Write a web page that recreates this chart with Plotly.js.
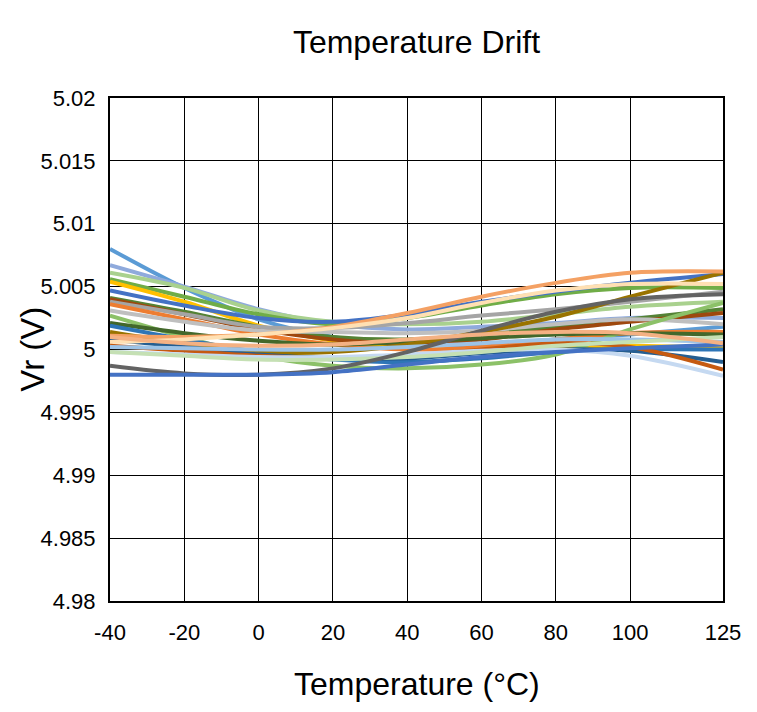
<!DOCTYPE html>
<html>
<head>
<meta charset="utf-8">
<script src="https://cdn.plot.ly/plotly-3.0.1.min.js"></script>
<style>html,body{margin:0;padding:0;background:#fff}#chart{width:757px;height:712px}</style>
</head>
<body>
<div id="chart"></div>
<script>
var temps = [-40, -20, 0, 20, 40, 60, 80, 100, 125];
var xTickVals = [-40, -20, 0, 20, 40, 60, 80, 100, 125];
var xTickText = ['-40', '-20', '0', '20', '40', '60', '80', '100', '125'];
var yTickVals = [4.98, 4.985, 4.99, 4.995, 5, 5.005, 5.01, 5.015, 5.02];
var yTickText = ['4.98', '4.985', '4.99', '4.995', '5', '5.005', '5.01', '5.015', '5.02'];

var s01 = [5.0080, 5.0049, 5.0024, 5.0010, 5.0004, 5.0004, 5.0008, 5.0012, 5.0018];
var s02 = [5.0067, 5.0050, 5.0032, 5.0020, 5.0016, 5.0018, 5.0021, 5.0025, 5.0025];
var s03 = [5.0061, 5.0049, 5.0031, 5.0022, 5.0020, 5.0022, 5.0028, 5.0034, 5.0038];
var s04 = [5.0056, 5.0042, 5.0028, 5.0020, 5.0025, 5.0035, 5.0044, 5.0049, 5.0049];
var s05 = [5.0054, 5.0038, 5.0019, 5.0007, 5.0001, 5.0000, 5.0002, 5.0003, 5.0001];
var s06 = [5.0047, 5.0035, 5.0025, 5.0022, 5.0028, 5.0038, 5.0046, 5.0053, 5.0060];
var s07 = [5.0041, 5.0030, 5.0018, 5.0010, 5.0008, 5.0012, 5.0018, 5.0024, 5.0032];
var s08 = [5.0040, 5.0028, 5.0016, 5.0008, 5.0005, 5.0008, 5.0016, 5.0022, 5.0029];
var s09 = [5.0038, 5.0028, 5.0018, 5.0017, 5.0021, 5.0027, 5.0032, 5.0038, 5.0046];
var s10 = [5.0036, 5.0024, 5.0012, 5.0004, 5.0000, 5.0002, 5.0008, 5.0013, 5.0014];
var s11 = [5.0031, 5.0022, 5.0015, 5.0014, 5.0013, 5.0015, 5.0020, 5.0024, 5.0020];
var s12 = [5.0027, 5.0010, 4.9995, 4.9987, 4.9985, 4.9988, 4.9996, 5.0016, 5.0037];
var s13 = [5.0021, 5.0013, 5.0007, 5.0004, 5.0006, 5.0009, 5.0012, 5.0013, 5.0012];
var s14 = [5.0019, 5.0008, 4.9998, 4.9992, 4.9990, 4.9993, 4.9998, 5.0000, 5.0000];
var s15 = [5.0014, 5.0005, 4.9998, 4.9998, 5.0004, 5.0014, 5.0026, 5.0042, 5.0061];
var s16 = [5.0011, 5.0010, 5.0012, 5.0018, 5.0029, 5.0042, 5.0053, 5.0061, 5.0062];
var s17 = [5.0008, 5.0002, 4.9996, 4.9993, 4.9993, 4.9997, 5.0000, 4.9999, 4.9990];
var s18 = [5.0006, 5.0008, 5.0012, 5.0017, 5.0025, 5.0037, 5.0047, 5.0052, 5.0052];
var s19 = [5.0003, 4.9999, 4.9995, 4.9993, 4.9995, 5.0000, 5.0005, 5.0002, 4.9984];
var s20 = [5.0002, 5.0001, 5.0000, 5.0000, 5.0002, 5.0005, 5.0008, 5.0008, 5.0006];
var s21 = [4.9998, 4.9996, 4.9994, 4.9994, 4.9996, 4.9999, 5.0000, 4.9995, 4.9979];
var s22 = [4.9998, 4.9995, 4.9992, 4.9992, 4.9994, 4.9998, 5.0003, 5.0006, 5.0010];
var s23 = [4.9987, 4.9981, 4.9980, 4.9985, 4.9998, 5.0015, 5.0030, 5.0040, 5.0044];
var s24 = [4.9980, 4.9980, 4.9980, 4.9982, 4.9988, 4.9994, 4.9998, 5.0001, 5.0004];
var s25 = [5.0010, 5.0005, 5.0003, 5.0004, 5.0008, 5.0012, 5.0014, 5.0013, 5.0005];

var seriesList = [s01, s02, s03, s04, s05, s06, s07, s08, s09, s10, s11, s12, s13,
                  s14, s15, s16, s17, s18, s19, s20, s21, s22, s23, s24, s25];
var colors = ['#5B9BD5', '#8FAADC', '#A9D18E', '#70AD47', '#FFC000', '#4472C4', '#548235',
              '#9E480E', '#A5A5A5', '#ED7D31', '#BFBFBF', '#8CC168', '#43682B',
              '#2E75B6', '#997300', '#F4A164', '#255E91', '#FFE0B3', '#C55A11', '#9DC3E6',
              '#C5D9F1', '#C5E0B4', '#636363', '#4472C4', '#F4B183'];

var traces = seriesList.map(function (s, i) {
  return {
    x: temps, y: s, type: 'scatter', mode: 'lines',
    line: {color: colors[i], width: 4, shape: 'spline', smoothing: 1},
    showlegend: false, hoverinfo: 'skip'
  };
});

var font = 'Arial, "Liberation Sans", sans-serif';
var layout = {
  width: 757, height: 712,
  margin: {l: 110, r: 34, t: 98, b: 111},
  paper_bgcolor: '#ffffff', plot_bgcolor: '#ffffff',
  showlegend: false,
  title: {text: 'Temperature Drift', font: {family: font, size: 32, color: '#000'},
          x: 0.5, xanchor: 'center', xref: 'paper', y: 0.941, yanchor: 'middle', yref: 'container'},
  xaxis: {
    range: [-40, 125], tickmode: 'array', tickvals: xTickVals, ticktext: xTickText,
    showgrid: true, gridcolor: '#000', gridwidth: 1,
    showline: true, linecolor: '#000', linewidth: 2, mirror: true,
    ticks: '', ticklabelstandoff: 11, zeroline: false,
    tickfont: {family: font, size: 22, color: '#000'}
  },
  yaxis: {
    range: [4.98, 5.02], tickmode: 'array', tickvals: yTickVals, ticktext: yTickText,
    showgrid: true, gridcolor: '#000', gridwidth: 1,
    showline: true, linecolor: '#000', linewidth: 2, mirror: true,
    ticks: '', ticklabelstandoff: 8, zeroline: false,
    tickfont: {family: font, size: 22, color: '#000'}
  },
  annotations: [
    {text: 'Temperature (°C)', xref: 'paper', yref: 'paper', x: 0.5, y: -0.165,
     xanchor: 'center', yanchor: 'middle', showarrow: false,
     font: {family: font, size: 32, color: '#000'}},
    {text: 'Vr (V)', xref: 'paper', yref: 'paper', x: -0.127, y: 0.5, textangle: -90,
     xanchor: 'center', yanchor: 'middle', showarrow: false,
     font: {family: font, size: 33, color: '#000'}}
  ]
};
Plotly.newPlot('chart', traces, layout, {displayModeBar: false, staticPlot: true});
</script>
</body>
</html>
